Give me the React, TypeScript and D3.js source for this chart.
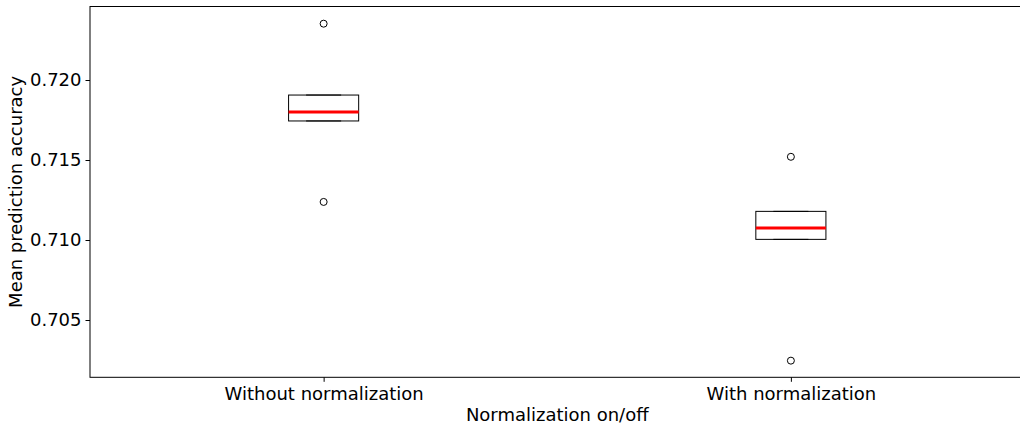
import { useEffect, useRef } from 'react';
import * as d3 from 'd3';

const categories = ['Without normalization', 'With normalization'];
const q1 = [0.71744, 0.71004];
const median = [0.718, 0.71075];
const q3 = [0.71906, 0.71179];
// whiskers collapse onto the box edges in this chart
const whiskerLow = [0.71744, 0.71004];
const whiskerHigh = [0.71906, 0.71179];
const outliers = [
  [0.71238, 0.72352],
  [0.70246, 0.7152],
];
const yTicks = [0.705, 0.71, 0.715, 0.72];

export default function App() {
  const ref = useRef<SVGSVGElement>(null);

  useEffect(() => {
    const W = 1020;
    const H = 428;
    // the axes run past the right edge of the picture
    const margin = { top: 6.5, right: -4.5, bottom: 50.7, left: 90 };
    const font = 'DejaVu Sans, sans-serif';
    const fs = 18;

    const svg = d3.select(ref.current);
    svg.selectAll('*').remove();

    const x = d3
      .scalePoint<string>()
      .domain(categories)
      .range([margin.left, W - margin.right])
      .padding(0.5);

    const y = d3
      .scaleLinear()
      .domain([0.701419, 0.724594])
      .range([H - margin.bottom, margin.top]);

    const boxW = x.step() * 0.15;
    const capW = boxW * 0.5;

    const g = svg.append('g');

    categories.forEach((c, i) => {
      const cx = x(c)!;
      // whiskers
      g.append('line')
        .attr('x1', cx).attr('x2', cx)
        .attr('y1', y(q1[i])).attr('y2', y(whiskerLow[i]))
        .attr('stroke', '#000').attr('stroke-width', 1);
      g.append('line')
        .attr('x1', cx).attr('x2', cx)
        .attr('y1', y(q3[i])).attr('y2', y(whiskerHigh[i]))
        .attr('stroke', '#000').attr('stroke-width', 1);
      // box
      g.append('rect')
        .attr('x', cx - boxW / 2)
        .attr('y', y(q3[i]))
        .attr('width', boxW)
        .attr('height', y(q1[i]) - y(q3[i]))
        .attr('fill', 'none')
        .attr('stroke', '#000')
        .attr('stroke-width', 1);
      // caps
      [whiskerLow[i], whiskerHigh[i]].forEach((v) => {
        g.append('line')
          .attr('x1', cx - capW / 2).attr('x2', cx + capW / 2)
          .attr('y1', y(v)).attr('y2', y(v))
          .attr('stroke', '#000').attr('stroke-width', 1);
      });
      // median
      g.append('line')
        .attr('x1', cx - boxW / 2).attr('x2', cx + boxW / 2)
        .attr('y1', y(median[i])).attr('y2', y(median[i]))
        .attr('stroke', '#ff0000').attr('stroke-width', 3);
      // fliers
      outliers[i].forEach((v) => {
        g.append('circle')
          .attr('cx', cx).attr('cy', y(v)).attr('r', 3.5)
          .attr('fill', 'none').attr('stroke', '#000').attr('stroke-width', 1);
      });
    });

    // frame
    svg.append('rect')
      .attr('x', margin.left)
      .attr('y', margin.top)
      .attr('width', W - margin.right - margin.left)
      .attr('height', H - margin.bottom - margin.top)
      .attr('fill', 'none')
      .attr('stroke', '#000')
      .attr('stroke-width', 1);

    // Y axis
    const yAxis = svg.append('g')
      .attr('transform', `translate(${margin.left},0)`)
      .call(d3.axisLeft(y).tickValues(yTicks).tickSize(4.5).tickPadding(4).tickFormat(d3.format('.3f')));
    yAxis.select('.domain').remove();
    yAxis.selectAll('text').attr('font-family', font).attr('font-size', fs).attr('fill', '#000');

    // X axis
    const xAxis = svg.append('g')
      .attr('transform', `translate(0,${H - margin.bottom})`)
      .call(d3.axisBottom(x).tickSize(4.5).tickPadding(5));
    xAxis.select('.domain').remove();
    xAxis.selectAll('text').attr('font-family', font).attr('font-size', fs).attr('fill', '#000');

    svg.append('text')
      .attr('x', (margin.left + W - margin.right) / 2)
      .attr('y', 421)
      .attr('text-anchor', 'middle')
      .attr('font-family', font)
      .attr('font-size', fs)
      .text('Normalization on/off');

    svg.append('text')
      .attr('transform', `translate(22,${(margin.top + H - margin.bottom) / 2}) rotate(-90)`)
      .attr('text-anchor', 'middle')
      .attr('font-family', font)
      .attr('font-size', fs)
      .text('Mean prediction accuracy');
  }, []);

  return (
    <svg
      ref={ref}
      width={1020}
      height={428}
      style={{ position: 'absolute', left: 0, top: 0, background: '#fff' }}
    />
  );
}
